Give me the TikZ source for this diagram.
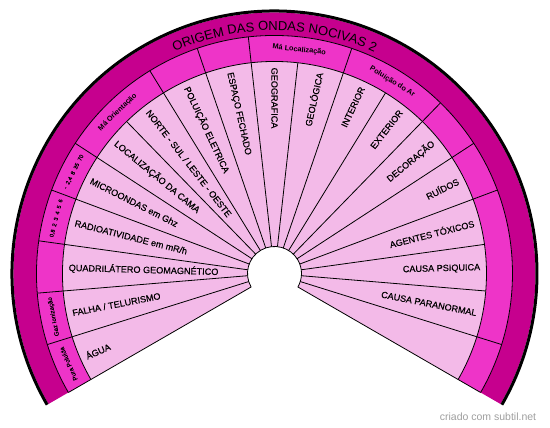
\documentclass[tikz,border=0pt]{standalone}
\usepackage{fontspec}
\setmainfont{Liberation Sans}
\newfontfamily\itemfont{Liberation Sans}[FakeBold=0.4]
\usepackage{tikz}
\usetikzlibrary{decorations.text}
\definecolor{ringdark}{RGB}{198,0,142}
\definecolor{ringmid}{RGB}{238,52,200}
\definecolor{ringlight}{RGB}{243,186,232}
\tikzset{
  itemleft/.style={anchor=west,inner sep=0pt,font=\itemfont\fontsize{9.1}{9}\selectfont},
  itemright/.style={anchor=east,inner sep=0pt,font=\itemfont\fontsize{9.1}{9}\selectfont},
  grouplabel/.style={inner sep=0pt,font=\bfseries\fontsize{7.3}{7.3}\selectfont},
  smallgroup/.style={inner sep=0pt,font=\itemfont\fontsize{6.2}{6.2}\selectfont},
  scalelabel/.style={inner sep=0pt,font=\itemfont\fontsize{5.6}{5.6}\selectfont},
}

\begin{document}
\begin{tikzpicture}[x=1pt,y=1pt]
\useasboundingbox (-274.5,-154.5) rectangle (275.5,273.5);
\fill[ringdark] (210:261) arc (210:-30:261) -- (-30:238) arc (-30:210:238) -- cycle;
\fill[ringmid] (210:238) arc (210:-30:238) -- (-30:212) arc (-30:210:212) -- cycle;
\fill[ringlight] (210:212) arc (210:-30:212) -- (-30:27) arc (-30:210:27) -- cycle;
\draw[line width=3pt] (210:262.5) arc (210:-30:262.5);
\draw[line width=0.8pt] (210:238) arc (210:-30:238);
\draw[line width=0.8pt] (210:212) arc (210:-30:212);
\draw[line width=0.8pt] (210:27) arc (210:-30:27);
\draw[line width=0.8pt] (210:27) -- (210:238);
\draw[line width=0.8pt] (-30:27) -- (-30:238);
\draw[line width=0.8pt] (197.368:27) -- (197.368:238);
\draw[line width=0.8pt] (184.737:27) -- (184.737:238);
\draw[line width=0.8pt] (172.105:27) -- (172.105:238);
\draw[line width=0.8pt] (159.474:27) -- (159.474:238);
\draw[line width=0.8pt] (146.842:27) -- (146.842:238);
\draw[line width=0.8pt] (134.211:27) -- (134.211:212);
\draw[line width=0.8pt] (121.579:27) -- (121.579:238);
\draw[line width=0.8pt] (108.947:27) -- (108.947:238);
\draw[line width=0.8pt] (96.316:27) -- (96.316:238);
\draw[line width=0.8pt] (83.684:27) -- (83.684:212);
\draw[line width=0.8pt] (71.053:27) -- (71.053:238);
\draw[line width=0.8pt] (58.421:27) -- (58.421:212);
\draw[line width=0.8pt] (45.789:27) -- (45.789:238);
\draw[line width=0.8pt] (33.158:27) -- (33.158:238);
\draw[line width=0.8pt] (20.526:27) -- (20.526:238);
\draw[line width=0.8pt] (7.895:27) -- (7.895:212);
\draw[line width=0.8pt] (-4.737:27) -- (-4.737:212);
\draw[line width=0.8pt] (-17.368:27) -- (-17.368:238);
\path[decorate,decoration={text along path,text align=center,
  text={|\fontsize{13}{13}\selectfont|ORIGEM DAS ONDAS NOCIVAS 2}}]
  (125:243) arc (125:55:243);
\node[itemleft,rotate=23.684] (agua) at (203.684:206) {ÁGUA};
\node[itemleft,rotate=11.053] (falha) at (191.053:206) {FALHA / TELURISMO};
\node[itemleft,rotate=-1.579] (quadri) at (178.421:206) {QUADRILÁTERO GEOMAGNÉTICO};
\node[itemleft,rotate=-14.211] (radio) at (165.789:206) {RADIOATIVIDADE em mR/h};
\node[itemleft,rotate=-26.842] (micro) at (153.158:206) {MICROONDAS em Ghz};
\node[itemleft,rotate=-39.474] (cama) at (140.526:206) {LOCALIZAÇÃO DA CAMA};
\node[itemleft,rotate=-52.105] (norte) at (127.895:206) {NORTE - SUL / LESTE - OESTE};
\node[itemleft,rotate=-64.737] (eletrica) at (115.263:206) {POLUIÇÃO ELETRICA};
\node[itemleft,rotate=-77.368] (fechado) at (102.632:206) {ESPAÇO FECHADO};
\node[itemleft,rotate=-90] (geografica) at (90:206) {GEOGRAFICA};
\node[itemright,rotate=77.368] (geologica) at (77.368:206) {GEOLÓGICA};
\node[itemright,rotate=64.737] (interior) at (64.737:206) {INTERIOR};
\node[itemright,rotate=52.105] (exterior) at (52.105:206) {EXTERIOR};
\node[itemright,rotate=39.474] (decoracao) at (39.474:206) {DECORAÇÃO};
\node[itemright,rotate=26.842] (ruidos) at (26.842:206) {RUÍDOS};
\node[itemright,rotate=14.211] (toxicos) at (14.211:206) {AGENTES TÓXICOS};
\node[itemright,rotate=1.579] (psiquica) at (1.579:206) {CAUSA PSIQUICA};
\node[itemright,rotate=-11.053] (paranormal) at (-11.053:206) {CAUSA PARANORMAL};
\node[smallgroup,rotate=113.684] (pura) at (203.684:225) {Pura Poluída};
\node[smallgroup,rotate=101.053] (gaz) at (191.053:225) {Gaz Ionização};
\node[scalelabel,rotate=75.789] (mrh) at (165.789:225) {0,8\ \ 2\ \ 3\ \ 4\ \ 5\ \ 6};
\node[scalelabel,rotate=63.158] (ghz) at (153.158:225) {-\ \ 2,4\ \ 8\ \ 35\ \ 70};
\node[grouplabel,rotate=44.211] (orientacao) at (134.211:225) {Má Orientação};
\node[grouplabel,rotate=-6.316] (localizacao) at (83.684:225) {Má Localização};
\node[grouplabel,rotate=-31.579] (ar) at (58.421:225) {Poluição do Ar};
\node[text=black!38,font=\fontsize{10.5}{10.5}\selectfont] (credit) at (213.5,-143.5) {criado com subtil.net};
\end{tikzpicture}
\end{document}
